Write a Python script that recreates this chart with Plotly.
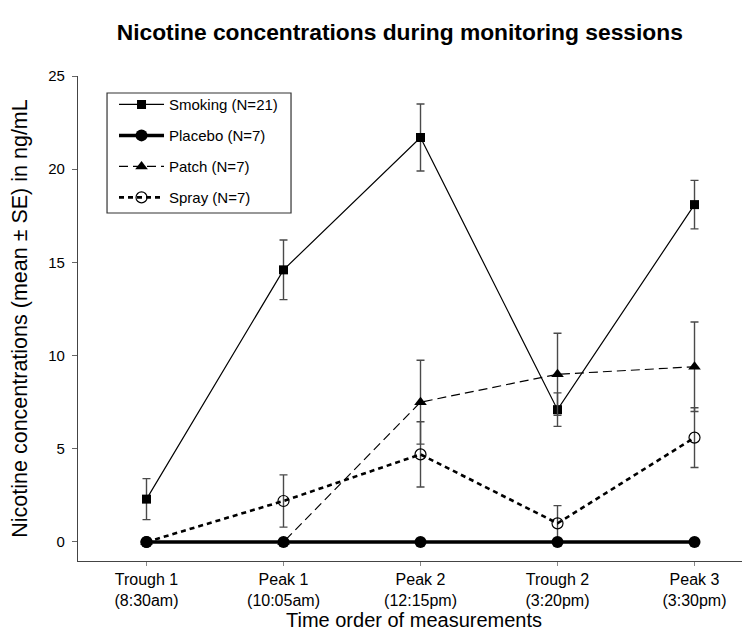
import plotly.graph_objects as go

categories = ["Trough 1<br>(8:30am)", "Peak 1<br>(10:05am)", "Peak 2<br>(12:15pm)",
              "Trough 2<br>(3:20pm)", "Peak 3<br>(3:30pm)"]
smoking = [2.3, 14.6, 21.7, 7.1, 18.1]
smoking_se = [1.1, 1.6, 1.8, 0.9, 1.3]
placebo = [0, 0, 0, 0, 0]
patch = [0, 0, 7.5, 9.0, 9.4]
patch_se = [0, 0, 2.25, 2.2, 2.4]
spray = [0, 2.2, 4.7, 1.0, 5.6]
spray_se = [0, 1.4, 1.75, 0.95, 1.6]

x = list(range(len(categories)))
FONT = "Liberation Sans, Arial, Helvetica, sans-serif"
ERR = dict(type="data", visible=True, color="#4a4a4a", thickness=1.4, width=4)

# page body has an 8px margin: figure is drawn 8px in from the top-left corner
W, H = 742, 623

fig = go.Figure()
fig.add_trace(go.Scatter(
    x=x, y=smoking, name="Smoking (N=21)", mode="lines+markers",
    line=dict(color="black", width=1.2),
    marker=dict(symbol="square", size=9, color="black"),
    error_y=dict(array=smoking_se, **ERR), legendrank=1, legendgroup="a"))
fig.add_trace(go.Scatter(
    x=x, y=patch, name="Patch (N=7)", mode="lines+markers",
    line=dict(color="black", width=1.2, dash="9px,5px"),
    marker=dict(symbol="triangle-up", size=11, color="black"),
    error_y=dict(array=patch_se, **ERR), legendrank=3, legendgroup="c"))
fig.add_trace(go.Scatter(
    x=x, y=spray, name="Spray (N=7)", mode="lines+markers",
    line=dict(color="black", width=2.6, dash="5px,4px"),
    marker=dict(symbol="circle-open", size=11, color="black", line=dict(width=1.2)),
    error_y=dict(array=spray_se, **ERR), legendrank=4, legendgroup="d"))
fig.add_trace(go.Scatter(
    x=x, y=placebo, name="Placebo (N=7)", mode="lines+markers",
    line=dict(color="black", width=3.5),
    marker=dict(symbol="circle", size=12, color="black"),
    legendrank=2, legendgroup="b"))

fig.update_layout(
    width=W, height=H,
    margin=dict(l=70, r=0, t=68, b=70, autoexpand=False),
    paper_bgcolor="white", plot_bgcolor="white",
    font=dict(family=FONT, color="black"),
    title=dict(text="<b>Nicotine concentrations during monitoring sessions</b>",
               x=0.528, xanchor="center", y=0.962, yanchor="middle",
               font=dict(size=22.8, family=FONT, color="black")),
    showlegend=True,
    legend=dict(x=0.0536, y=0.975, xanchor="left", yanchor="top",
                borderwidth=0, bgcolor="rgba(0,0,0,0)",
                font=dict(size=15, family=FONT), tracegroupgap=8.5,
                itemwidth=45, traceorder="grouped"),
    shapes=[dict(type="rect", xref="paper", yref="paper",
                 x0=0.0432, x1=0.317, y0=0.7175, y1=0.965,
                 line=dict(color="#333", width=1.2), layer="below")],
)
fig.update_xaxes(
    tickmode="array", tickvals=x, ticktext=categories,
    range=[-0.5, 4.405], showgrid=False, zeroline=False, automargin=False,
    showline=True, linecolor="#444", linewidth=1.2,
    ticks="outside", ticklen=4, tickcolor="#888", tickwidth=1,
    tickfont=dict(size=16, family=FONT),
    title=dict(text="Time order of measurements", font=dict(size=20, family=FONT), standoff=0),
)
fig.update_yaxes(
    range=[-1.02, 25], tickvals=[0, 5, 10, 15, 20, 25],
    showgrid=False, zeroline=False, automargin=False,
    showline=True, linecolor="#444", linewidth=1.2,
    ticks="outside", ticklen=5, tickcolor="#666", tickwidth=1,
    ticklabelstandoff=4,
    tickfont=dict(size=15, family=FONT),
    title=dict(text="Nicotine concentrations (mean ± SE) in ng/mL",
               font=dict(size=21.5, family=FONT), standoff=16),
)

fig.write_html("out.html")
